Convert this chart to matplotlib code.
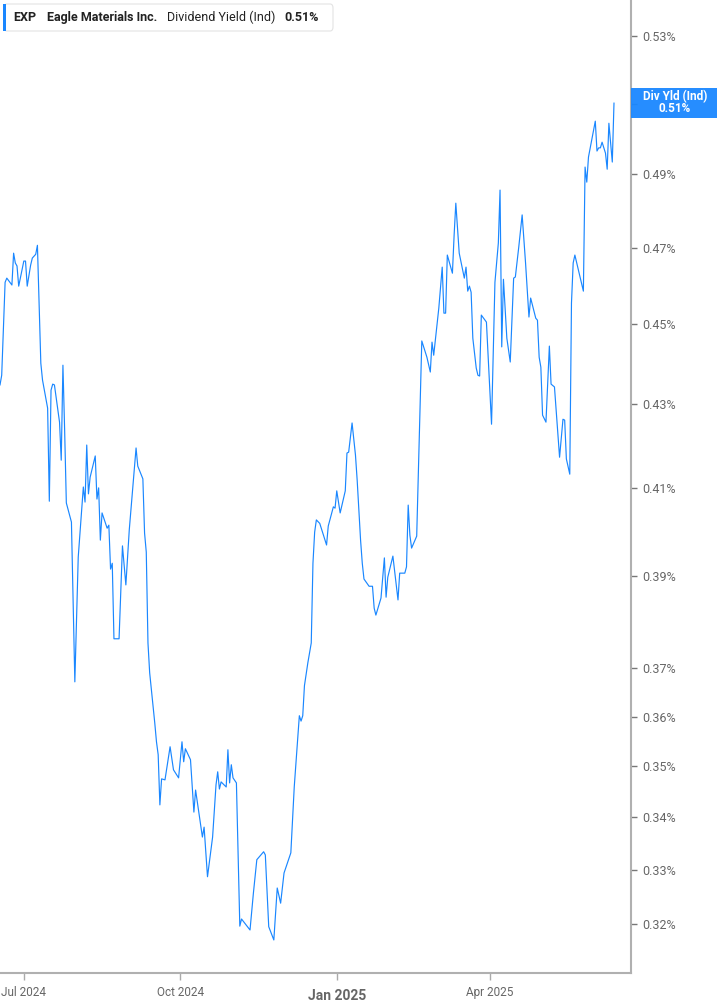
import matplotlib.pyplot as plt
import matplotlib.ticker as mticker
import matplotlib.dates as mdates
from matplotlib.patches import Rectangle, FancyBboxPatch
import pandas as pd

# dividend yield (%), turning points of the line
dates = [
    "2024-06-17", "2024-06-18", "2024-06-20", "2024-06-21", "2024-06-24", "2024-06-25",
    "2024-06-26", "2024-06-27", "2024-06-28", "2024-07-01", "2024-07-02", "2024-07-03",
    "2024-07-05", "2024-07-06", "2024-07-08", "2024-07-09", "2024-07-11", "2024-07-12",
    "2024-07-15", "2024-07-16", "2024-07-17", "2024-07-18", "2024-07-19", "2024-07-22",
    "2024-07-23", "2024-07-24", "2024-07-25", "2024-07-26", "2024-07-29", "2024-07-31",
    "2024-08-02", "2024-08-05", "2024-08-06", "2024-08-07", "2024-08-08", "2024-08-09",
    "2024-08-12", "2024-08-13", "2024-08-14", "2024-08-15", "2024-08-16", "2024-08-19",
    "2024-08-20", "2024-08-21", "2024-08-22", "2024-08-23", "2024-08-26", "2024-08-28",
    "2024-08-30", "2024-09-01", "2024-09-05", "2024-09-06", "2024-09-09", "2024-09-10",
    "2024-09-11", "2024-09-12", "2024-09-13", "2024-09-16", "2024-09-17", "2024-09-18",
    "2024-09-19", "2024-09-20", "2024-09-22", "2024-09-25", "2024-09-27", "2024-09-30",
    "2024-10-02", "2024-10-03", "2024-10-04", "2024-10-07", "2024-10-09", "2024-10-10",
    "2024-10-14", "2024-10-15", "2024-10-17", "2024-10-20", "2024-10-22", "2024-10-23",
    "2024-10-24", "2024-10-25", "2024-10-28", "2024-10-29", "2024-10-30", "2024-10-31",
    "2024-11-01", "2024-11-03", "2024-11-05", "2024-11-06", "2024-11-11", "2024-11-13",
    "2024-11-15", "2024-11-19", "2024-11-20", "2024-11-22", "2024-11-25", "2024-11-27",
    "2024-11-29", "2024-12-01", "2024-12-03", "2024-12-05", "2024-12-07", "2024-12-08",
    "2024-12-10", "2024-12-11", "2024-12-12", "2024-12-13", "2024-12-15", "2024-12-17",
    "2024-12-18", "2024-12-19", "2024-12-20", "2024-12-22", "2024-12-26", "2024-12-27",
    "2024-12-30", "2024-12-31", "2025-01-01", "2025-01-03", "2025-01-06", "2025-01-07",
    "2025-01-08", "2025-01-10", "2025-01-12", "2025-01-13", "2025-01-15", "2025-01-16",
    "2025-01-17", "2025-01-20", "2025-01-22", "2025-01-23", "2025-01-24", "2025-01-27",
    "2025-01-29", "2025-01-30", "2025-01-31", "2025-02-03", "2025-02-06", "2025-02-07",
    "2025-02-10", "2025-02-11", "2025-02-12", "2025-02-13", "2025-02-14", "2025-02-17",
    "2025-02-18", "2025-02-19", "2025-02-20", "2025-02-23", "2025-02-25", "2025-02-26",
    "2025-02-27", "2025-03-02", "2025-03-04", "2025-03-05", "2025-03-06", "2025-03-07",
    "2025-03-10", "2025-03-11", "2025-03-12", "2025-03-14", "2025-03-17", "2025-03-18",
    "2025-03-19", "2025-03-20", "2025-03-21", "2025-03-22", "2025-03-24", "2025-03-25",
    "2025-03-26", "2025-03-27", "2025-03-30", "2025-04-02", "2025-04-04", "2025-04-06",
    "2025-04-07", "2025-04-08", "2025-04-09", "2025-04-11", "2025-04-13", "2025-04-15",
    "2025-04-16", "2025-04-18", "2025-04-20", "2025-04-22", "2025-04-24", "2025-04-25",
    "2025-04-28", "2025-04-29", "2025-04-30", "2025-05-01", "2025-05-02", "2025-05-04",
    "2025-05-06", "2025-05-07", "2025-05-09", "2025-05-12", "2025-05-14", "2025-05-15",
    "2025-05-16", "2025-05-18", "2025-05-19", "2025-05-20", "2025-05-21", "2025-05-26",
    "2025-05-27", "2025-05-28", "2025-05-29", "2025-06-02", "2025-06-03", "2025-06-04",
    "2025-06-05", "2025-06-06", "2025-06-08", "2025-06-09", "2025-06-10", "2025-06-12",
    "2025-06-13",
]
yld = [
    0.4347, 0.4371, 0.4608, 0.4619, 0.4601, 0.4685, 0.4659, 0.4651, 0.4598, 0.4664,
    0.4664, 0.4598, 0.4653, 0.4672, 0.4682, 0.4706, 0.4401, 0.4359, 0.4290, 0.4069,
    0.4334, 0.4349, 0.4347, 0.4256, 0.4165, 0.4396, 0.4237, 0.4065, 0.4021, 0.3672,
    0.3942, 0.4102, 0.4067, 0.4201, 0.4086, 0.4125, 0.4175, 0.4074, 0.4100, 0.3980,
    0.4042, 0.4007, 0.4014, 0.3915, 0.3928, 0.3763, 0.3763, 0.3967, 0.3880, 0.4003,
    0.4194, 0.4151, 0.4121, 0.3996, 0.3953, 0.3754, 0.3691, 0.3587, 0.3549, 0.3523,
    0.3424, 0.3475, 0.3473, 0.3539, 0.3493, 0.3477, 0.3549, 0.3509, 0.3535, 0.3513,
    0.3410, 0.3453, 0.3362, 0.3381, 0.3287, 0.3362, 0.3463, 0.3489, 0.3455, 0.3469,
    0.3459, 0.3533, 0.3467, 0.3503, 0.3477, 0.3467, 0.3196, 0.3209, 0.3189, 0.3257,
    0.3319, 0.3334, 0.3328, 0.3195, 0.3171, 0.3266, 0.3238, 0.3294, 0.3313, 0.3332,
    0.3459, 0.3507, 0.3602, 0.3591, 0.3602, 0.3664, 0.3712, 0.3754, 0.3928, 0.3998,
    0.4026, 0.4018, 0.3969, 0.4012, 0.4056, 0.4053, 0.4093, 0.4042, 0.4093, 0.4182,
    0.4184, 0.4254, 0.4177, 0.4118, 0.3980, 0.3928, 0.3893, 0.3877, 0.3877, 0.3829,
    0.3814, 0.3851, 0.3940, 0.3853, 0.3897, 0.3944, 0.3847, 0.3906, 0.3906, 0.3920,
    0.4060, 0.3991, 0.3962, 0.3989, 0.4142, 0.4302, 0.4457, 0.4416, 0.4379, 0.4454,
    0.4421, 0.4541, 0.4648, 0.4528, 0.4528, 0.4680, 0.4632, 0.4733, 0.4820, 0.4685,
    0.4619, 0.4648, 0.4585, 0.4598, 0.4582, 0.4464, 0.4389, 0.4371, 0.4369, 0.4523,
    0.4505, 0.4251, 0.4608, 0.4712, 0.4856, 0.4442, 0.4616, 0.4464, 0.4404, 0.4619,
    0.4622, 0.4701, 0.4788, 0.4659, 0.4518, 0.4567, 0.4515, 0.4510, 0.4416, 0.4391,
    0.4273, 0.4256, 0.4444, 0.4349, 0.4342, 0.4172, 0.4263, 0.4261, 0.4168, 0.4132,
    0.4554, 0.4659, 0.4680, 0.4585, 0.4920, 0.4878, 0.4948, 0.5050, 0.4965, 0.4974,
    0.4974, 0.4990, 0.4959, 0.4914, 0.5044, 0.4934, 0.5102,
]

yticks = [0.32, 0.33, 0.34, 0.35, 0.36, 0.37, 0.39, 0.41, 0.43, 0.45, 0.47, 0.49, 0.51, 0.53]
xticks = ["2024-07-01", "2024-10-01", "2025-01-01", "2025-04-01"]
xtick_labels = ["Jul 2024", "Oct 2024", "Jan 2025", "Apr 2025"]

W, H = 717, 1005
BLUE = "#1a87ff"
GREY = "#666666"

plt.rcParams['font.family'] = ['Roboto', 'DejaVu Sans']

fig = plt.figure(figsize=(W / 100, H / 100), dpi=100)
ax = fig.add_axes([0, 32 / H, 631 / W, 1 - 32 / H])

x = pd.to_datetime(dates)
ax.plot(x, yld, color=BLUE, lw=0.85)

ax.set_yscale('log')
ax.set_ylim(0.3112, 0.5410)
ax.set_xlim(pd.Timestamp("2024-06-17"), pd.Timestamp("2025-06-23"))


def pct(v, p):
    # the 0.51% tick sits under the last-value label
    if abs(v - 0.51) < 1e-6:
        return ""
    return f"{v:.2f}%"


ax.yaxis.tick_right()
ax.yaxis.set_major_locator(mticker.FixedLocator(yticks))
ax.yaxis.set_minor_locator(mticker.NullLocator())
ax.yaxis.set_major_formatter(mticker.FuncFormatter(pct))
ax.tick_params(axis='y', which='major', length=4, width=1, color="#777777",
               labelsize=9, labelcolor=GREY, pad=4)

ax.xaxis.set_major_locator(mticker.FixedLocator(mdates.date2num(pd.to_datetime(xticks))))
ax.xaxis.set_minor_locator(mticker.NullLocator())
ax.set_xticklabels(xtick_labels)
ax.tick_params(axis='x', which='major', length=5, width=1, color="#aaaaaa",
               labelsize=8.5, labelcolor=GREY, pad=4)
for lab in ax.get_xticklabels():
    if lab.get_text() == "Jan 2025":
        lab.set_fontweight('bold')
        lab.set_fontsize(10)
        lab.set_y(-0.004)

for s in ['left', 'top']:
    ax.spines[s].set_visible(False)
for s in ['right', 'bottom']:
    ax.spines[s].set_color("#b0b0b0")
    ax.spines[s].set_linewidth(1.5)


def fx(px):
    return px / W


def fy(py):
    return 1 - py / H


# header box
hdr = FancyBboxPatch((fx(4), fy(31)), fx(329), (27) / H,
                     boxstyle="round,pad=0,rounding_size=0.004",
                     transform=fig.transFigure, facecolor="white",
                     edgecolor="#e3e3e3", lw=0.8, zorder=5)
fig.patches.append(hdr)
fig.patches.append(Rectangle((fx(3), fy(31)), fx(3), 27 / H, transform=fig.transFigure,
                             facecolor=BLUE, edgecolor="none", zorder=6))
parts = [(13, "EXP", 'bold'), (47, "Eagle Materials Inc.", 'bold'),
         (167, "Dividend Yield (Ind)", 'normal'), (284, "0.51%", 'bold')]
for px, txt, wt in parts:
    fig.text(fx(px), fy(17.5), txt, fontsize=9, fontweight=wt, color="#222222",
             va='center', ha='left', zorder=7)

# last value label on the right axis
fig.patches.append(Rectangle((fx(631), fy(118)), fx(86), 30 / H, transform=fig.transFigure,
                             facecolor=BLUE, edgecolor="none", alpha=0.95, zorder=6))
fig.text(fx(675), fy(97), "Div Yld (Ind)", fontsize=8.5, fontweight='bold', color="white",
         ha='center', va='center', zorder=7)
fig.text(fx(675), fy(109), "0.51%", fontsize=8.5, fontweight='bold', color="white",
         ha='center', va='center', zorder=7)

fig.savefig("out.png", dpi=100)
